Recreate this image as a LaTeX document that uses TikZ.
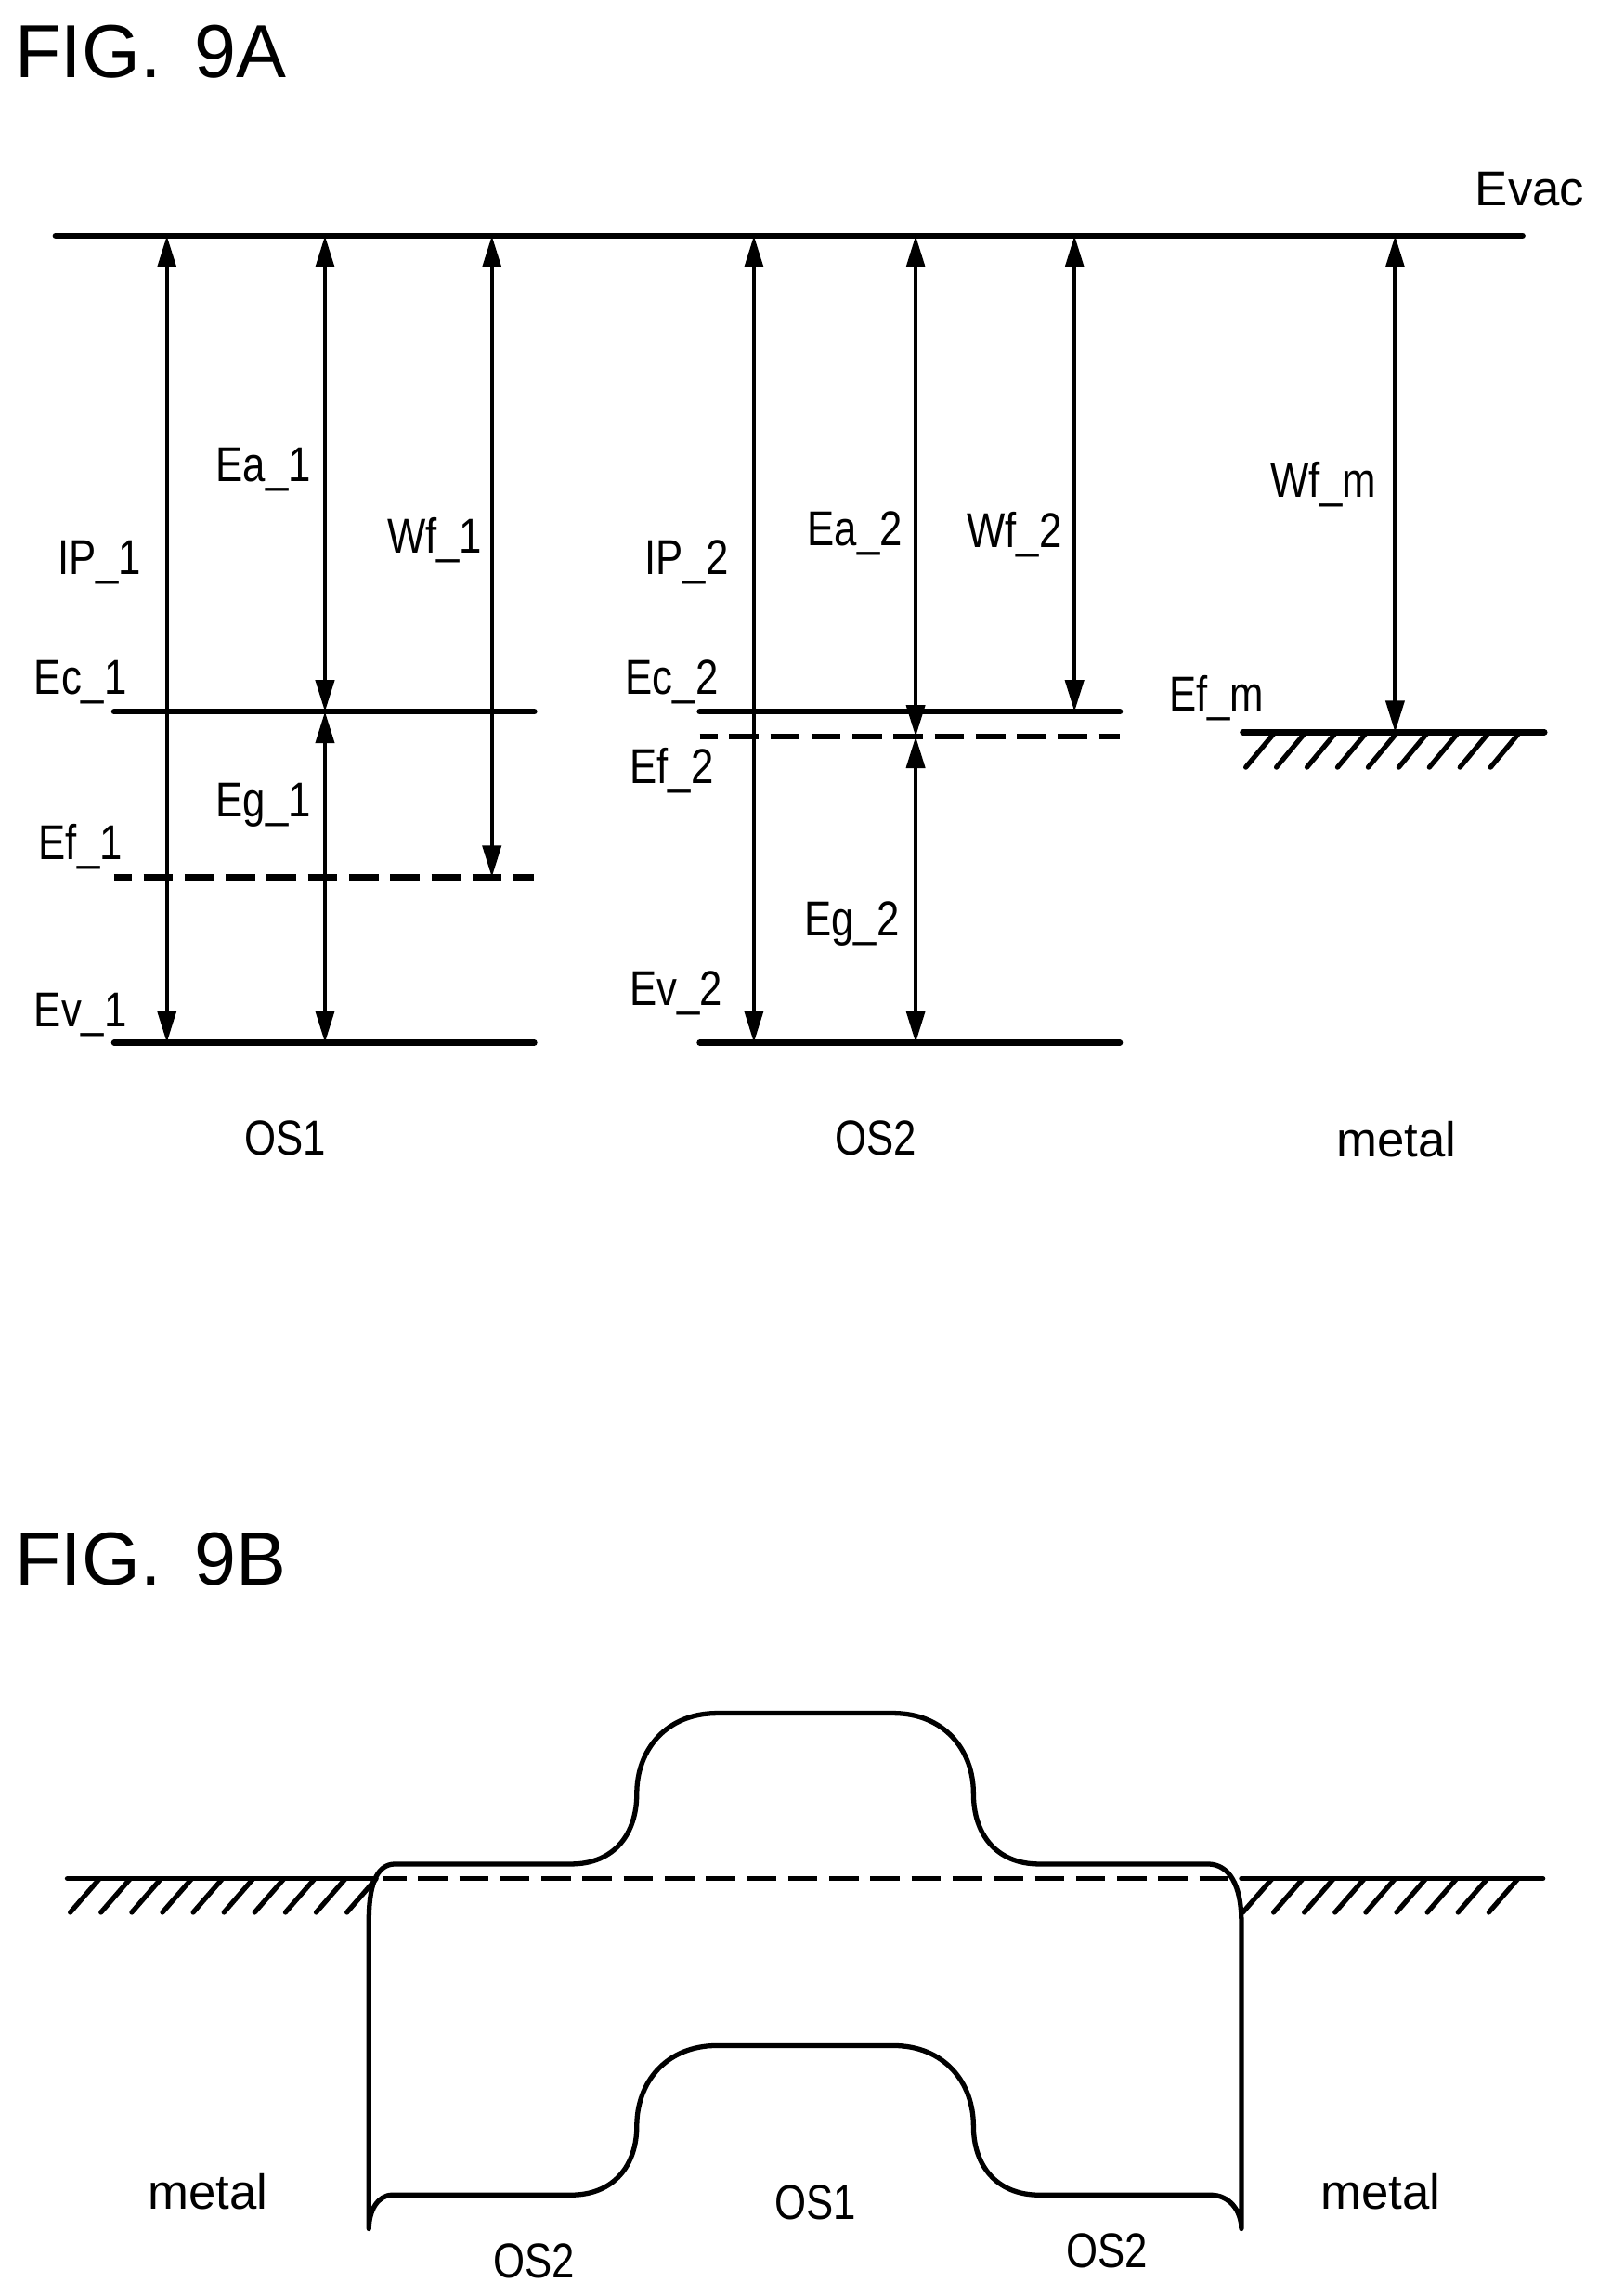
\documentclass[tikz,border=0pt]{standalone}
\usepackage{fontspec}
\setmainfont[FakeStretch=0.83]{Liberation Sans}
\newfontfamily\figfont{Liberation Sans}
\usetikzlibrary{arrows.meta}
\begin{document}
\begin{tikzpicture}[x=0.15767mm,y=-0.15767mm,
	>={Triangle[length=3.4mm,width=2mm]},
	level/.style={line width=1.85pt,line cap=round},
	fermi/.style={line width=1.8pt,dash pattern=on 9pt off 3.6pt,dash phase=3.6pt},
	band/.style={line width=1.5pt,line join=round},
	hatch/.style={line width=1.5pt,line cap=round}]
	\useasboundingbox (0,0) rectangle (1091.5,1568);

	% FIG. 9A levels
	\coordinate (EvacL) at (38,161);   \coordinate (EvacR) at (1040,161);
	\coordinate (Ec1L) at (78,486);    \coordinate (Ec1R) at (365,486);
	\coordinate (Ef1L) at (78,599);    \coordinate (Ef1R) at (365,599);
	\coordinate (Ev1L) at (78,712);    \coordinate (Ev1R) at (365,712);
	\coordinate (Ec2L) at (478,486);   \coordinate (Ec2R) at (765,486);
	\coordinate (Ef2L) at (478,503);   \coordinate (Ef2R) at (765,503);
	\coordinate (Ev2L) at (478,712);   \coordinate (Ev2R) at (765,712);
	\coordinate (EfmL) at (849,500);   \coordinate (EfmR) at (1055,500);
	\begin{scope}[every edge/.style={draw,level}]
		\path (EvacL) edge (EvacR);
		\path (Ec1L) edge (Ec1R);
		\path (Ev1L) edge (Ev1R);
		\path (Ec2L) edge (Ec2R);
		\path (Ev2L) edge (Ev2R);
		\path (EfmL) edge (EfmR);
	\end{scope}
	\begin{scope}[every edge/.style={draw,fermi}]
		\path (Ef1L) edge (Ef1R);
		\path (Ef2L) edge (Ef2R);
	\end{scope}
	\foreach \i in {0,...,8}
		\draw [hatch] ({851+20.9*\i},524) -- ({871+20.9*\i},500);

	% arrows between the levels
	\coordinate (IP1a) at (114,161);   \coordinate (IP1b) at (114,712);
	\coordinate (Ea1a) at (222,161);   \coordinate (Ea1b) at (222,486);
	\coordinate (Eg1a) at (222,486);   \coordinate (Eg1b) at (222,712);
	\coordinate (Wf1a) at (336,161);   \coordinate (Wf1b) at (336,599);
	\coordinate (IP2a) at (515,161);   \coordinate (IP2b) at (515,712);
	\coordinate (Ea2a) at (625.5,161); \coordinate (Ea2b) at (625.5,503);
	\coordinate (Eg2a) at (625.5,503); \coordinate (Eg2b) at (625.5,712);
	\coordinate (Wf2a) at (734,161);   \coordinate (Wf2b) at (734,486);
	\coordinate (Wfma) at (953,161);   \coordinate (Wfmb) at (953,500);
	\begin{scope}[every edge/.style={draw,line width=1.15pt}]
		\path [<->] (IP1a) edge (IP1b);
		\path [<->] (Ea1a) edge (Ea1b);
		\path [<->] (Eg1a) edge (Eg1b);
		\path [<->] (Wf1a) edge (Wf1b);
		\path [<->] (IP2a) edge (IP2b);
		\path [<->] (Ea2a) edge (Ea2b);
		\path [<->] (Eg2a) edge (Eg2b);
		\path [<->] (Wf2a) edge (Wf2b);
		\path [<->] (Wfma) edge (Wfmb);
	\end{scope}

	% FIG. 9B
	\coordinate (MetLL) at (46,1283);  \coordinate (MetLR) at (255,1283);
	\coordinate (MetRL) at (848,1283); \coordinate (MetRR) at (1054,1283);
	\coordinate (FermL) at (262,1283); \coordinate (FermR) at (848,1283);
	\begin{scope}[every edge/.style={draw,hatch}]
		\path (MetLL) edge (MetLR);
		\path (MetRL) edge (MetRR);
	\end{scope}
	\path [draw,line width=1.5pt,dash pattern=on 9pt off 3.6pt,dash phase=2pt] (FermL) -- (FermR);
	\foreach \i in {0,...,9}
		\draw [hatch] ({48+21*\i},1306) -- ({68+21*\i},1283);
	\foreach \i in {0,...,8}
		\draw [hatch] ({849+21*\i},1306) -- ({869+21*\i},1283);

	% band outline
	\draw [band] (252,1312) .. controls (252,1290) and (256,1273) .. (270,1273) -- (390,1273)
		.. controls (420,1273) and (435,1252) .. (435,1225)
		.. controls (435,1195) and (455,1170) .. (490,1170) -- (610,1170)
		.. controls (645,1170) and (665,1195) .. (665,1225)
		.. controls (665,1252) and (680,1273) .. (710,1273) -- (825,1273)
		.. controls (840,1273) and (848,1288) .. (848,1312) -- (848,1522)
		.. controls (848,1510) and (840,1499) .. (827,1499) -- (710,1499)
		.. controls (680,1499) and (665,1478) .. (665,1452)
		.. controls (665,1422) and (645,1397) .. (610,1397) -- (490,1397)
		.. controls (455,1397) and (435,1422) .. (435,1452)
		.. controls (435,1478) and (420,1499) .. (390,1499) -- (268,1499)
		.. controls (258,1499) and (252,1510) .. (252,1522) -- cycle;

	\begin{scope}[every node/.style={font=\fontsize{15}{17}\selectfont,inner sep=0pt}]
		\node (IP1) at (68,384) {IP\_1};
		\node (Ea1) at (180,321) {Ea\_1};
		\node (Wf1) at (297,369) {Wf\_1};
		\node (IP2) at (469,384) {IP\_2};
		\node (Ea2) at (584,364) {Ea\_2};
		\node (Wf2) at (693,365) {Wf\_2};
		\node (Wfm) at (904,331) {Wf\_m};
		\node (Ec1) at (55,466) {Ec\_1};
		\node (Ef1) at (55,578) {Ef\_1};
		\node (Ev1) at (55,693) {Ev\_1};
		\node (Eg1) at (180,550) {Eg\_1};
		\node (Ec2) at (459,466) {Ec\_2};
		\node (Ef2) at (459,526) {Ef\_2};
		\node (Ev2) at (462,678) {Ev\_2};
		\node (Eg2) at (582,631) {Eg\_2};
		\node (Efm) at (831,477) {Ef\_m};
		\node (OS1a) at (195,777) {OS1};
		\node (OS2a) at (598,777) {OS2};
		\node (OS1b) at (557,1504) {OS1};
		\node (OS2l) at (365,1544) {OS2};
		\node (OS2r) at (756,1537) {OS2};
	\end{scope}
	\begin{scope}[every node/.style={font=\figfont\fontsize{15}{17}\selectfont,inner sep=0pt}]
		\node (Evac) at (1045,129) {Evac};
		\node (Meta) at (954,778) {metal};
		\node (MetL) at (142,1497) {metal};
		\node (MetR) at (943,1497) {metal};
	\end{scope}
	\begin{scope}[every node/.style={font=\figfont\fontsize{23}{26}\selectfont,inner sep=0pt,anchor=west}]
		\node (FigA) at (10,35) {FIG.~\,9A};
		\node (FigB) at (10,1065) {FIG.~\,9B};
	\end{scope}
\end{tikzpicture}
\end{document}
